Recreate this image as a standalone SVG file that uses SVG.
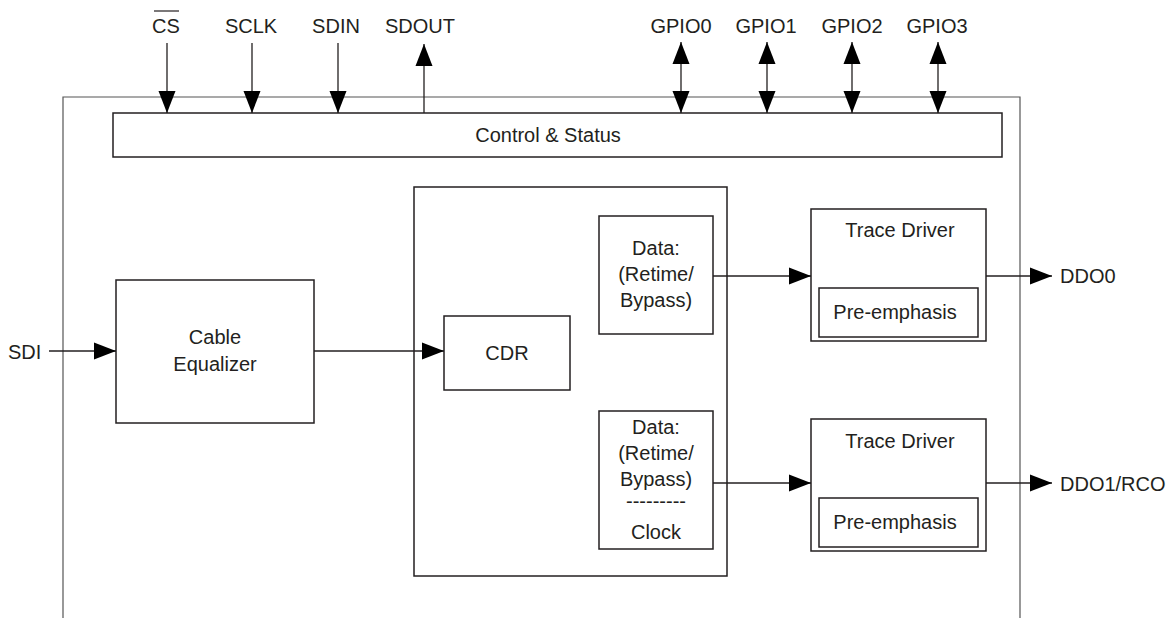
<svg xmlns="http://www.w3.org/2000/svg" width="1173" height="618" viewBox="0 0 1173 618">
<defs>
<marker id="ah" markerUnits="userSpaceOnUse" markerWidth="22" markerHeight="18" refX="22" refY="9" orient="auto-start-reverse" viewBox="0 0 22 18">
<path d="M0,0.5 L22,9 L0,17.5 z" fill="#000"/>
</marker>
<style>
.box{fill:#fff;stroke:#231f20;stroke-width:1.5}
.frame{fill:none;stroke:#555;stroke-width:1.2}
.wire{fill:none;stroke:#231f20;stroke-width:1.3}
.arr{marker-end:url(#ah)}
.dbl{marker-start:url(#ah);marker-end:url(#ah)}
text{font-family:"Liberation Sans",Arial,sans-serif;font-size:20px;fill:#231f20}
.c{text-anchor:middle}
</style>
</defs>
<rect width="1173" height="618" fill="#fff"/>
<g id="frame">
<path class="frame" d="M63,618 V97 H1020 V618"/>
</g>
<g id="control-status">
<rect class="box" x="113" y="113" width="889" height="44"/>
<text class="c" x="548" y="142">Control &amp; Status</text>
</g>
<g id="cable-equalizer">
<rect class="box" x="116" y="280" width="198" height="143"/>
<text class="c" x="215" y="344">Cable</text>
<text class="c" x="215" y="371">Equalizer</text>
</g>
<g id="cdr-block">
<rect class="box" x="414" y="187" width="313" height="389"/>
</g>
<g id="cdr">
<rect class="box" x="444" y="316" width="126" height="74"/>
<text class="c" x="507" y="360">CDR</text>
</g>
<g id="data0">
<rect class="box" x="599" y="216" width="114" height="118"/>
<text class="c" x="656" y="255">Data:</text>
<text class="c" x="656" y="281">(Retime/</text>
<text class="c" x="656" y="307">Bypass)</text>
</g>
<g id="data1">
<rect class="box" x="599" y="411" width="114" height="138"/>
<text class="c" x="656" y="434">Data:</text>
<text class="c" x="656" y="460">(Retime/</text>
<text class="c" x="656" y="486">Bypass)</text>
<text class="c" x="656" y="508">---------</text>
<text class="c" x="656" y="539">Clock</text>
</g>
<g id="trace-driver0">
<rect class="box" x="811" y="209" width="175" height="132"/>
<text class="c" x="900" y="237">Trace Driver</text>
<rect class="box" x="819" y="288" width="159" height="49"/>
<text class="c" x="895" y="319">Pre-emphasis</text>
</g>
<g id="trace-driver1">
<rect class="box" x="811" y="419" width="175" height="132"/>
<text class="c" x="900" y="448">Trace Driver</text>
<rect class="box" x="819" y="498" width="159" height="49"/>
<text class="c" x="895" y="529">Pre-emphasis</text>
</g>
<g id="labels">
<text class="c" x="166" y="33">CS</text>
<line x1="154" y1="11" x2="179" y2="11" stroke="#231f20" stroke-width="1.2"/>
<text class="c" x="251" y="33">SCLK</text>
<text class="c" x="336" y="33">SDIN</text>
<text class="c" x="420" y="33">SDOUT</text>
<text class="c" x="681" y="33">GPIO0</text>
<text class="c" x="766" y="33">GPIO1</text>
<text class="c" x="852" y="33">GPIO2</text>
<text class="c" x="937" y="33">GPIO3</text>
<text x="8" y="359">SDI</text>
<text x="1060" y="283">DDO0</text>
<text x="1060" y="491">DDO1/RCO</text>
</g>
<g id="connectors">
<line class="wire arr" x1="167" y1="43" x2="167" y2="113"/>
<line class="wire arr" x1="252" y1="43" x2="252" y2="113"/>
<line class="wire arr" x1="338" y1="43" x2="338" y2="113"/>
<line class="wire arr" x1="424" y1="113" x2="424" y2="44"/>
<line class="wire dbl" x1="681" y1="42" x2="681" y2="113"/>
<line class="wire dbl" x1="767" y1="42" x2="767" y2="113"/>
<line class="wire dbl" x1="852" y1="42" x2="852" y2="113"/>
<line class="wire dbl" x1="938" y1="42" x2="938" y2="113"/>
<line class="wire arr" x1="49" y1="351" x2="116" y2="351"/>
<line class="wire arr" x1="314" y1="351" x2="444" y2="351"/>
<line class="wire arr" x1="713" y1="276" x2="811" y2="276"/>
<line class="wire arr" x1="713" y1="483" x2="811" y2="483"/>
<line class="wire arr" x1="986" y1="276" x2="1052" y2="276"/>
<line class="wire arr" x1="986" y1="483" x2="1052" y2="483"/>
</g>
</svg>
